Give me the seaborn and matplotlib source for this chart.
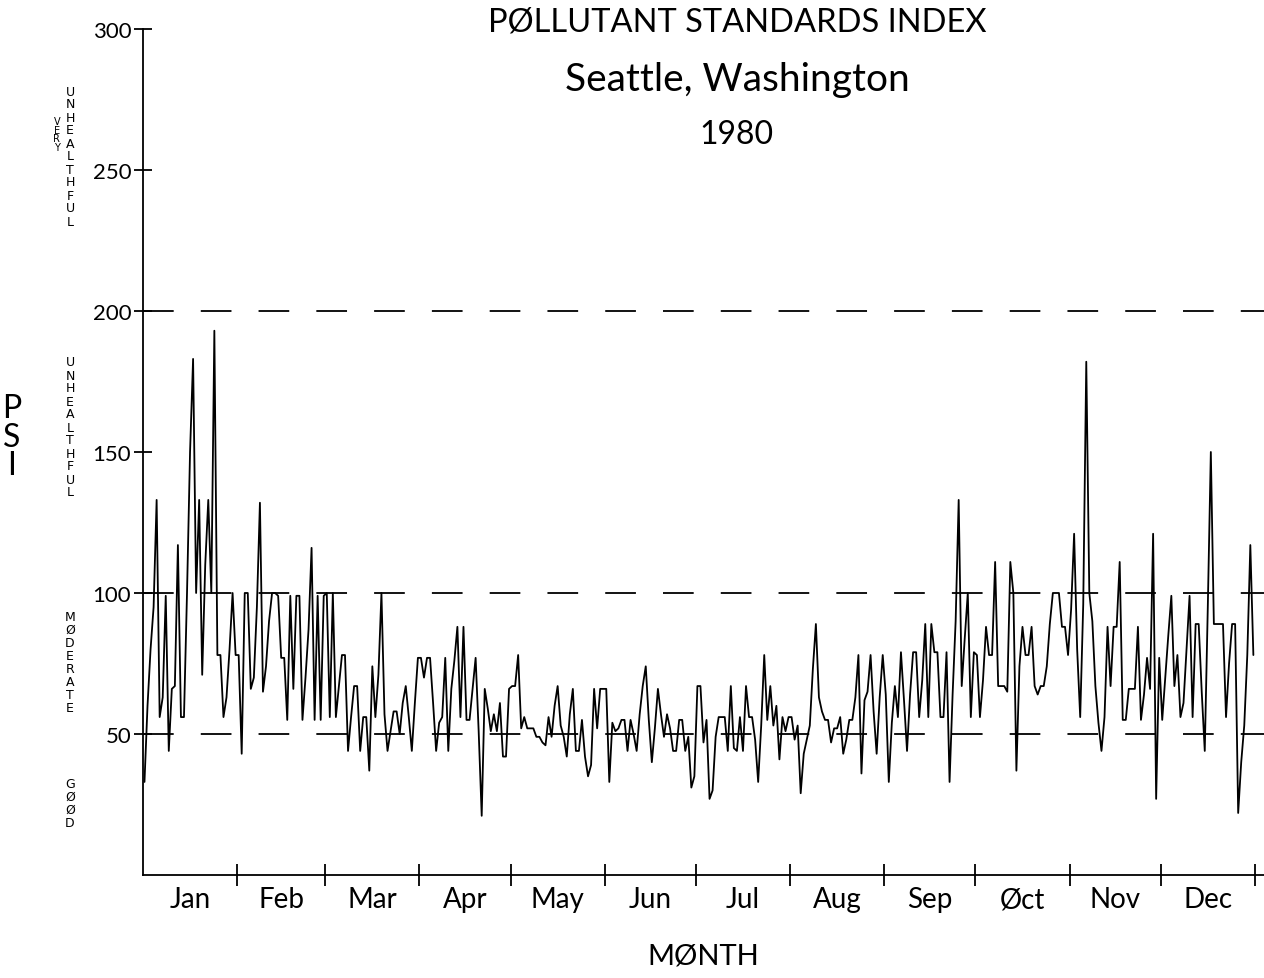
import numpy as np
import pandas as pd
import matplotlib
matplotlib.use("Agg")
import matplotlib.pyplot as plt
import seaborn as sns

# daily PSI values, one list per month (1980, leap year)
jan = [33, 60, 80, 95, 133, 56, 63, 99, 44, 66, 67, 117, 56, 56, 100, 150, 183, 100, 133, 71,
       110, 133, 100, 193, 78, 78, 56, 63, 80, 100, 78]
feb = [78, 43, 100, 100, 66, 70, 95, 132, 65, 74, 90, 100, 100, 99, 77, 77, 55, 99, 66, 99,
       99, 55, 70, 87, 116, 55, 99, 55, 99]
mar = [100, 56, 100, 56, 67, 78, 78, 44, 56, 67, 67, 44, 56, 56, 37, 74, 56, 71, 100, 57,
       44, 51, 58, 58, 50, 61, 67, 56, 44, 61, 77]
apr = [77, 70, 77, 77, 61, 44, 54, 56, 77, 44, 66, 76, 88, 56, 88, 55, 55, 66, 77, 51,
       21, 66, 59, 51, 57, 51, 61, 42, 42, 66]
may = [67, 67, 78, 52, 56, 52, 52, 52, 49, 49, 47, 46, 56, 49, 60, 67, 53, 49, 42, 57,
       66, 44, 44, 55, 42, 35, 39, 66, 52, 66, 66]
jun = [66, 33, 54, 51, 52, 55, 55, 44, 55, 50, 44, 57, 67, 74, 55, 40, 52, 66, 57, 49,
       57, 52, 44, 44, 55, 55, 44, 49, 31, 35]
jul = [67, 67, 47, 55, 27, 30, 49, 56, 56, 56, 44, 67, 45, 44, 56, 44, 67, 56, 56, 48,
       33, 53, 78, 55, 67, 53, 60, 41, 56, 51, 56]
aug = [56, 48, 53, 29, 43, 48, 53, 73, 89, 63, 58, 55, 55, 47, 52, 52, 56, 43, 48, 55,
       55, 63, 78, 36, 62, 65, 78, 58, 43, 63, 78]
sep = [64, 33, 54, 67, 56, 79, 62, 44, 64, 79, 79, 56, 69, 89, 56, 89, 79, 79, 56, 56,
       79, 33, 64, 90, 133, 67, 84, 100, 56, 79]
oct_ = [78, 56, 69, 88, 78, 78, 111, 67, 67, 67, 65, 111, 100, 37, 74, 88, 78, 78, 88, 67,
        64, 67, 67, 74, 89, 100, 100, 100, 88, 88, 78]
nov = [94, 121, 80, 56, 96, 182, 100, 90, 67, 54, 44, 56, 88, 67, 88, 88, 111, 55, 55, 66,
       66, 66, 88, 55, 64, 77, 66, 121, 27, 77]
dec = [55, 70, 85, 99, 67, 78, 56, 61, 80, 99, 56, 89, 89, 65, 44, 95, 150, 89, 89, 89,
       89, 56, 75, 89, 89, 22, 40, 53, 78, 117, 78]

months = ["Jan", "Feb", "Mar", "Apr", "May", "Jun", "Jul", "Aug", "Sep", "\u00d8ct", "Nov", "Dec"]
thresholds = [50, 100, 200]
y_ticks = [50, 100, 150, 200, 250, 300]

monthly = [jan, feb, mar, apr, may, jun, jul, aug, sep, oct_, nov, dec]
psi = np.concatenate(monthly)
df = pd.DataFrame({"day": np.arange(len(psi)) + 0.5, "psi": psi})
month_edges = np.cumsum([0] + [len(m) for m in monthly])
month_mid = (month_edges[:-1] + month_edges[1:]) / 2

sns.set_style("white")
plt.rcParams["font.family"] = ["Lato", "DejaVu Sans"]
for k in ["text.color", "axes.labelcolor", "xtick.color", "ytick.color"]:
    plt.rcParams[k] = "black"

fig = plt.figure(figsize=(12.64, 9.79), dpi=100)
ax = fig.add_axes([0.1131, 0.1052, 0.8869, 0.8642])

sns.lineplot(data=df, x="day", y="psi", color="black", linewidth=1.3, ax=ax)

# category boundaries
for t in thresholds:
    ax.axhline(t, color="black", linewidth=1.3, dashes=(17, 15))

ax.set_xlim(0, 369)
ax.set_ylim(0, 300)
for s in ["top", "right"]:
    ax.spines[s].set_visible(False)
for s in ["left", "bottom"]:
    ax.spines[s].set_linewidth(1.3)
    ax.spines[s].set_color("black")

ax.set_yticks(y_ticks)
ax.set_yticklabels([str(v) for v in y_ticks], fontsize=16)
ax.tick_params(axis="y", left=True, direction="inout", length=13, width=1.3, pad=2)

ax.set_xticks(month_edges[1:])
ax.set_xticklabels([])
ax.set_xticks(month_mid, minor=True)
ax.set_xticklabels(months, minor=True, fontsize=20)
ax.tick_params(axis="x", which="major", bottom=True, direction="inout", length=16, width=1.3)
ax.tick_params(axis="x", which="minor", bottom=True, length=0, pad=8)

ax.set_xlabel("M\u00d8NTH", fontsize=21, labelpad=22)
ax.set_ylabel("")

# titles
fig.text(0.583, 0.9775, "P\u00d8LLUTANT STANDARDS INDEX", ha="center", va="center", fontsize=23.5)
fig.text(0.583, 0.918, "Seattle, Washington", ha="center", va="center", fontsize=28)
fig.text(0.583, 0.862, "1980", ha="center", va="center", fontsize=23)

# stacked axis labels on the left
fig.text(0.009, 0.553, "\n".join("PSI"), ha="center", va="center", fontsize=23, linespacing=0.95)
cats = [("UNHEALTHFUL", 157), ("UNHEALTHFUL", 428), ("M\u00d8DERATE", 663), ("G\u00d8\u00d8D", 804)]
for word, yc in cats:
    fig.text(0.0554, 1 - yc / 979, "\n".join(word), ha="center", va="center",
             fontsize=9, linespacing=1.0, family="DejaVu Sans")
fig.text(0.045, 1 - 135 / 979, "\n".join("VERY"), ha="center", va="center",
         fontsize=7, linespacing=0.85, family="DejaVu Sans")

fig.savefig("out.png", dpi=100)
